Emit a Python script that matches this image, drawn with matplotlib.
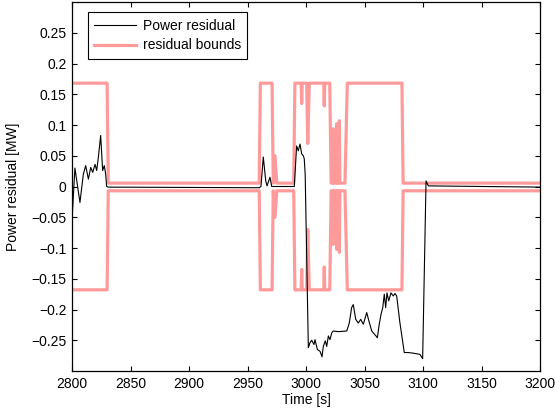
import numpy as np
import matplotlib
matplotlib.use('Agg')
import matplotlib.pyplot as plt
from matplotlib.ticker import FuncFormatter, MultipleLocator

# power residual [MW]
res_t = [2800, 2802.5, 2806.8, 2809.7, 2811.7, 2814, 2816, 2817.7, 2819.7, 2821.1,
         2822.5, 2824.5, 2826.2, 2827.6, 2828.8, 2829.6, 2831, 2960, 2961.5, 2963.5,
         2965.6, 2966.7, 2969.2, 2970.7, 2990, 2992, 2993.4, 2994.9, 2996.3, 2997.7,
         2998.5, 2999.3, 3002, 3003.4, 3004.9, 3006.8, 3007.7, 3009.7, 3012, 3013.7,
         3014.8, 3016.5, 3017.7, 3019.1, 3020.5, 3022, 3023.3, 3027.6, 3034.8, 3037,
         3039, 3040.4, 3042.5, 3044.7, 3046.8, 3049, 3051.9, 3053.8, 3056.2, 3059.8,
         3061, 3062.6, 3064.1, 3065.6, 3066.9, 3068.1, 3069.2, 3070.7, 3072.6, 3074.6,
         3076.1, 3077.5, 3080.3, 3084, 3087.4, 3091.7, 3097.4, 3099.7, 3102.6, 3104.6,
         3200]
res_v = [-0.055, 0.03, -0.026, 0.02, 0.034, 0.012, 0.031, 0.023, 0.036, 0.026,
         0.047, 0.083, 0.026, 0.034, 0.02, 0.0, -0.001, -0.002, 0.0, 0.048,
         0.009, 0.001, 0.015, 0.0, 0.0, 0.066, 0.058, 0.069, 0.053, 0.05,
         0.045, 0.02, -0.262, -0.254, -0.25, -0.257, -0.249, -0.265, -0.268, -0.277,
         -0.26, -0.251, -0.26, -0.243, -0.249, -0.238, -0.235, -0.236, -0.235, -0.222,
         -0.197, -0.192, -0.216, -0.222, -0.216, -0.224, -0.205, -0.219, -0.235, -0.243,
         -0.246, -0.224, -0.208, -0.197, -0.175, -0.197, -0.173, -0.186, -0.173, -0.178,
         -0.174, -0.178, -0.222, -0.27, -0.27, -0.271, -0.273, -0.28, 0.009, 0.001,
         -0.001]

# upper residual bound; lower bound mirrors it
H = 0.168
L = 0.0055
L_low = -0.007
bound_t = [2800, 2830, 2831, 2960, 2961, 2971, 2972, 2973.5, 2975, 2989.5,
           2990.5, 2995.8, 2996.3, 2996.8, 3000.6, 3001.5, 3002.8, 3015.2, 3015.6, 3016,
           3020.3, 3021.5, 3022.8, 3023.3, 3023.8, 3025.7, 3026.2, 3026.7, 3028, 3028.5,
           3029, 3033.3, 3035.3, 3082, 3083, 3200]
bound_v = [H, H, L, L, H, H, L, 0.05, L, L,
           H, H, 0.135, H, H, 0.07, H, H, 0.131, H,
           H, L, L, 0.094, L, L, 0.102, L, L, 0.107,
           L, L, H, H, L, L]
lower_v = [-v if v > 0.01 else L_low for v in bound_v]

plt.rcParams['font.family'] = ['Liberation Sans', 'DejaVu Sans']
plt.rcParams['font.size'] = 10

fig = plt.figure(figsize=(5.55, 4.13), dpi=100)
ax = fig.add_axes([72/555, 1 - 371/413, 468/555, 369/413])

red = '#ff9a9a'
l1, = ax.plot(res_t, res_v, color='black', lw=0.8, zorder=3)
l2, = ax.plot(bound_t, bound_v, color=red, lw=2.3, zorder=2)
ax.plot(bound_t, lower_v, color=red, lw=2.3, zorder=2)

ax.set_xlim(2800, 3200)
ax.set_ylim(-0.3, 0.3)
ax.xaxis.set_major_locator(MultipleLocator(50))

def fmt(v, pos):
    s = f'{round(v, 2):g}'
    if s in ('-0', '0'):
        return '0'
    return s.replace('-', '\u2212')

ax.set_yticks(np.arange(-0.25, 0.2501, 0.05))
ax.yaxis.set_major_formatter(FuncFormatter(fmt))
ax.tick_params(direction='in', top=True, right=True, length=3.5, width=0.8, pad=4)
for s in ax.spines.values():
    s.set_linewidth(0.9)

ax.set_xlabel('Time [s]', labelpad=2)
ax.set_ylabel('Power residual [MW]', labelpad=8)

leg = ax.legend([l1, l2], ['Power residual', 'residual bounds'], loc='upper left',
                bbox_to_anchor=(0.034, 0.972), borderaxespad=0, fancybox=False,
                handlelength=3.0, handletextpad=0.5, labelspacing=0.42,
                borderpad=0.45, framealpha=1)
leg.get_frame().set_edgecolor('black')
leg.get_frame().set_linewidth(0.8)

fig.savefig('out.png', dpi=100)
